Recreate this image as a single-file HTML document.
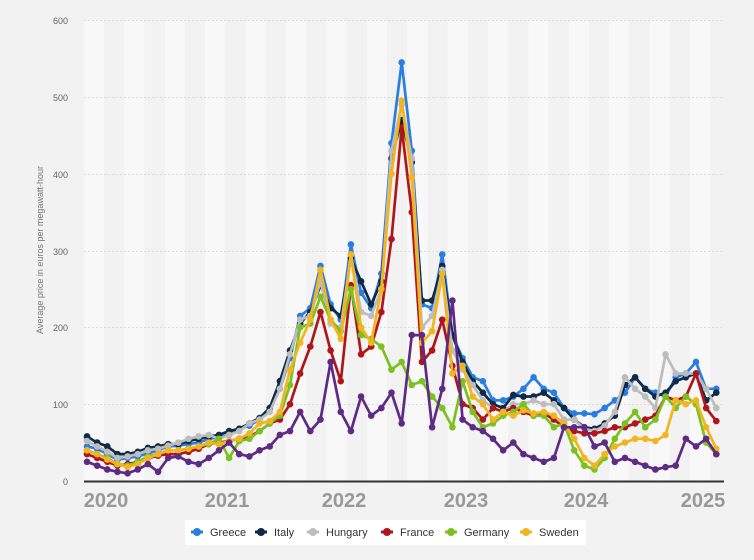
<!DOCTYPE html>
<html><head><meta charset="utf-8"><style>
html,body{margin:0;padding:0;background:#f2f2f2;}
body{width:754px;height:560px;overflow:hidden;font-family:"Liberation Sans",sans-serif;}
</style></head><body>
<svg id="c" width="754" height="560" xmlns="http://www.w3.org/2000/svg" style="position:absolute;left:0;top:0">
<rect width="754" height="560" fill="#f2f2f2"/>
<g id="bands"></g>
<g stroke="#dcdcdc" stroke-dasharray="2,2" stroke-width="1">
<line x1="84" x2="724" y1="20.5" y2="20.5"/><line x1="84" x2="724" y1="97.5" y2="97.5"/>
<line x1="84" x2="724" y1="174.5" y2="174.5"/><line x1="84" x2="724" y1="251.5" y2="251.5"/>
<line x1="84" x2="724" y1="327.5" y2="327.5"/><line x1="84" x2="724" y1="404.5" y2="404.5"/>
</g>
<g font-size="9" fill="#666" text-anchor="end">
<text x="68" y="24">600</text><text x="68" y="101">500</text><text x="68" y="178">400</text>
<text x="68" y="255">300</text><text x="68" y="331">200</text><text x="68" y="408">100</text><text x="68" y="485">0</text>
</g>
<text transform="translate(43,250) rotate(-90)" font-size="9" fill="#777" text-anchor="middle">Average price in euros per megawatt-hour</text>
<g id="lines"></g>
<line x1="84" x2="724" y1="481.5" y2="481.5" stroke="#333" stroke-width="2"/>
<g font-size="20" font-weight="bold" fill="#999" text-anchor="middle">
<text x="106" y="507">2020</text><text x="227" y="507">2021</text><text x="344" y="507">2022</text>
<text x="466" y="507">2023</text><text x="586" y="507">2024</text><text x="703" y="507">2025</text>
</g>
<rect x="185" y="520" width="401" height="25" fill="#fff"/>
<g font-size="11" fill="#333">
<g id="leg"></g>
<text x="210" y="536">Greece</text><text x="274" y="536">Italy</text><text x="326" y="536">Hungary</text>
<text x="400" y="536">France</text><text x="464" y="536">Germany</text><text x="539" y="536">Sweden</text>
</g>
</svg>
<script>
var NS="http://www.w3.org/2000/svg";
function el(t,a,p){var e=document.createElementNS(NS,t);for(var k in a)e.setAttribute(k,a[k]);p.appendChild(e);return e;}
var bands=document.getElementById('bands');
for(var i=0;i<32;i++){var x=84+i*20.2;el('rect',{x:x,y:20,width:20.2,height:461,fill:i%2?'#f2f2f2':'#f8f8f8'},bands);}
var S=[
["#2a7de1",[45,42,35,28,30,32,36,40,45,46,48,50,55,57,60,68,72,80,95,120,160,215,225,280,230,210,308,245,225,270,440,545,430,230,225,295,190,160,135,130,105,105,110,120,135,120,115,95,88,88,87,95,105,115,135,120,115,110,135,140,155,120,120]],
["#0e2a47",[58,50,45,35,35,38,43,45,48,48,52,55,58,60,65,68,75,82,95,130,170,205,220,255,225,215,290,260,230,260,420,470,415,235,235,280,190,155,130,115,100,95,112,110,110,115,105,95,80,70,68,75,85,125,135,120,110,115,130,135,140,105,115]],
["#bdbdbd",[52,45,38,30,32,35,40,42,46,50,55,58,60,55,60,65,75,80,90,120,165,210,215,260,205,200,295,220,215,250,430,490,420,200,215,275,170,145,125,105,95,90,100,100,105,100,100,80,80,68,65,72,90,135,120,110,95,165,140,140,140,120,95]],
["#b0151b",[35,30,25,20,22,25,30,33,35,35,38,42,48,50,52,55,58,65,75,80,100,140,175,220,170,130,255,165,175,220,315,460,350,155,170,210,150,100,95,80,95,90,95,90,85,88,80,70,65,62,62,65,70,70,75,80,85,110,105,110,140,95,78]],
["#7cc021",[40,35,30,22,20,25,32,35,40,40,42,45,48,55,30,52,55,65,75,85,125,200,205,240,210,195,250,190,185,175,145,155,125,130,110,95,70,130,90,70,75,85,90,100,85,85,70,75,40,20,15,30,55,75,90,70,80,110,95,110,100,50,35]],
["#f2b51f",[40,35,28,22,18,22,30,35,40,40,42,45,50,48,52,55,62,75,78,90,145,180,210,275,210,185,295,200,180,250,400,495,395,180,195,270,140,150,110,100,80,90,85,92,88,90,85,75,55,30,20,35,45,50,55,55,52,60,105,100,105,70,42]],
["#5d2a84",[25,20,15,12,10,15,22,12,30,32,25,22,30,40,50,35,32,40,45,60,65,90,65,80,155,90,65,110,85,95,115,75,190,190,70,120,235,80,70,65,55,40,50,35,30,25,30,70,70,70,45,50,25,30,25,20,15,18,20,55,45,55,35]]
];
var g=document.getElementById('lines');
S.forEach(function(s){
 var pts=s[1].map(function(v,i){return [87+i*10.15,481-v*0.768];});
 el('polyline',{points:pts.map(function(p){return p[0].toFixed(1)+','+p[1].toFixed(1)}).join(' '),fill:'none',stroke:s[0],'stroke-width':2.7,'stroke-linejoin':'round'},g);
 pts.forEach(function(p){el('circle',{cx:p[0],cy:p[1],r:3.3,fill:s[0]},g);});
});
var leg=document.getElementById('leg');
[[197,S[0][0]],[261,S[1][0]],[313,S[2][0]],[387,S[3][0]],[451,S[4][0]],[526,S[5][0]]].forEach(function(l){
 el('line',{x1:l[0]-6,x2:l[0]+6,y1:532,y2:532,stroke:l[1],'stroke-width':3},leg);
 el('circle',{cx:l[0],cy:532,r:4,fill:l[1]},leg);
});
</script>
</body></html>
